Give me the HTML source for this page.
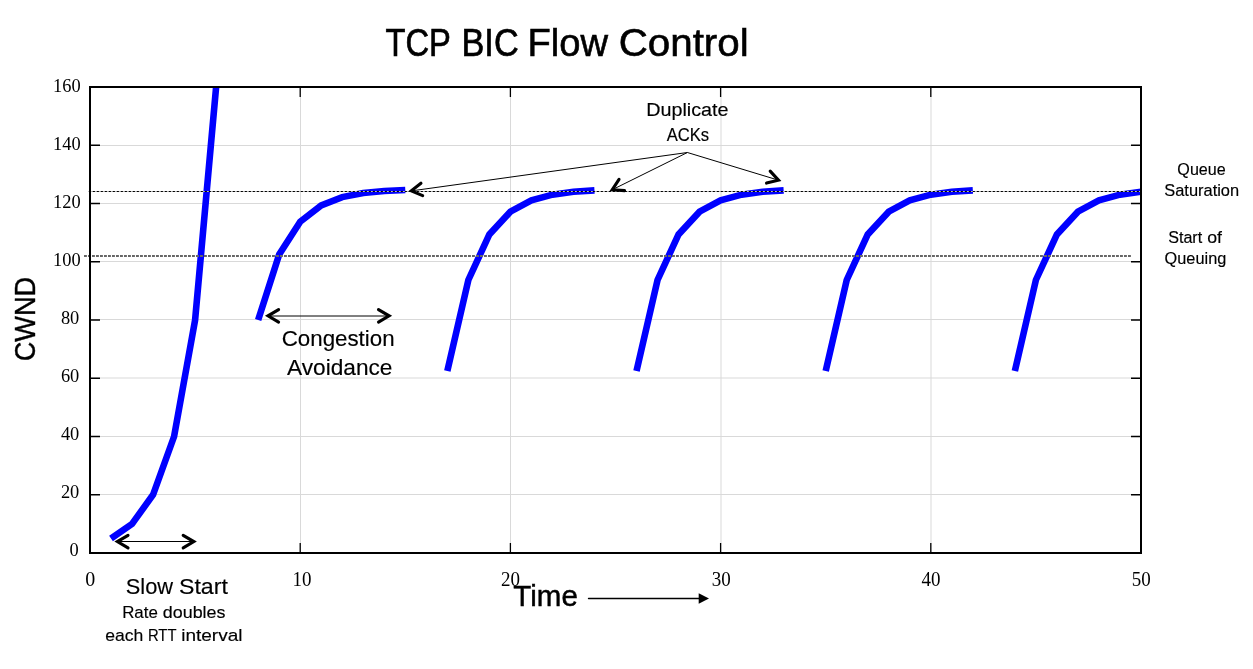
<!DOCTYPE html><html><head><meta charset="utf-8"><style>html,body{margin:0;padding:0;background:#fff;overflow:hidden}svg{display:block;will-change:transform}text{white-space:pre}</style></head><body>
<svg width="1253" height="669" viewBox="0 0 1253 669">
<rect width="1253" height="669" fill="#fff"/>
<path d="M300.5 87V553M510.5 87V553M721.0 87V553M931.0 87V553M90 494.5H1141M90 436.5H1141M90 378.0H1141M90 319.5H1141M90 261.5H1141M90 203.5H1141M90 145.5H1141" stroke="#d9d9d9" stroke-width="1" fill="none"/>
<path d="M300.20 87v10M300.20 553v-10M510.40 87v10M510.40 553v-10M720.60 87v10M720.60 553v-10M930.80 87v10M930.80 553v-10M90 494.75h10M1141 494.75h-10M90 436.50h10M1141 436.50h-10M90 378.25h10M1141 378.25h-10M90 320.00h10M1141 320.00h-10M90 261.75h10M1141 261.75h-10M90 203.50h10M1141 203.50h-10M90 145.25h10M1141 145.25h-10" stroke="#000" stroke-width="1.3" fill="none"/>
<path d="M111.02 538.44 L132.04 523.88 L153.06 494.75 L174.08 436.50 L195.10 320.00 L216.12 87.00" stroke="#0000ff" stroke-width="6.6" fill="none" stroke-linejoin="miter" stroke-linecap="butt" clip-path="url(#pc)"/>
<path d="M258.16 320.00 L279.18 254.47 L300.20 221.70 L321.22 205.32 L342.24 197.13 L363.26 193.03 L384.28 190.99 L405.30 189.96" stroke="#0000ff" stroke-width="6.6" fill="none" stroke-linejoin="miter" stroke-linecap="butt" clip-path="url(#pc)"/>
<path d="M447.34 370.97 L468.36 279.95 L489.38 234.45 L510.40 211.69 L531.42 200.31 L552.44 194.63 L573.46 191.78 L594.48 190.36" stroke="#0000ff" stroke-width="6.6" fill="none" stroke-linejoin="miter" stroke-linecap="butt" clip-path="url(#pc)"/>
<path d="M636.52 370.97 L657.54 279.95 L678.56 234.45 L699.58 211.69 L720.60 200.31 L741.62 194.63 L762.64 191.78 L783.66 190.36" stroke="#0000ff" stroke-width="6.6" fill="none" stroke-linejoin="miter" stroke-linecap="butt" clip-path="url(#pc)"/>
<path d="M825.70 370.97 L846.72 279.95 L867.74 234.45 L888.76 211.69 L909.78 200.31 L930.80 194.63 L951.82 191.78 L972.84 190.36" stroke="#0000ff" stroke-width="6.6" fill="none" stroke-linejoin="miter" stroke-linecap="butt" clip-path="url(#pc)"/>
<path d="M1014.88 370.97 L1035.90 279.95 L1056.92 234.45 L1077.94 211.69 L1098.96 200.31 L1119.98 194.63 L1141.00 191.78" stroke="#0000ff" stroke-width="6.6" fill="none" stroke-linejoin="miter" stroke-linecap="butt" clip-path="url(#pc)"/>
<defs><clipPath id="pc"><rect x="90" y="87" width="1051" height="466"/></clipPath></defs>
<path d="M88.8 191.5H1140" stroke="#bbb" stroke-width="1" fill="none"/>
<path d="M88.8 191.5H1140" stroke="#000" stroke-width="1.1" stroke-dasharray="2.1 1.9" fill="none"/>
<path d="M84 256H1131" stroke="#666" stroke-width="1.9" stroke-dasharray="2.9 1.1" fill="none"/>
<rect x="90" y="87" width="1051" height="466" fill="none" stroke="#000" stroke-width="2"/>
<g font-family="Liberation Serif" font-size="20" fill="#000"><text x="78.6" y="556.40" text-anchor="end" font-size="18.4">0</text><text x="79.3" y="498.30" text-anchor="end" font-size="18.4">20</text><text x="79.3" y="440.20" text-anchor="end" font-size="18.4">40</text><text x="79.3" y="382.10" text-anchor="end" font-size="18.4">60</text><text x="79.3" y="324.00" text-anchor="end" font-size="18.4">80</text><text x="80.6" y="265.90" text-anchor="end" font-size="18.4">100</text><text x="80.6" y="207.80" text-anchor="end" font-size="18.4">120</text><text x="80.6" y="149.70" text-anchor="end" font-size="18.4">140</text><text x="80.6" y="91.60" text-anchor="end" font-size="18.4">160</text><text x="90.30" y="585.5" text-anchor="middle">0</text><text x="301.90" y="585.5" text-anchor="middle" textLength="19.0" lengthAdjust="spacingAndGlyphs">10</text><text x="510.60" y="585.5" text-anchor="middle" textLength="19.0" lengthAdjust="spacingAndGlyphs">20</text><text x="721.15" y="585.5" text-anchor="middle" textLength="19.0" lengthAdjust="spacingAndGlyphs">30</text><text x="931.05" y="585.5" text-anchor="middle" textLength="19.0" lengthAdjust="spacingAndGlyphs">40</text><text x="1141.30" y="585.5" text-anchor="middle" textLength="19.0" lengthAdjust="spacingAndGlyphs">50</text></g>
<g stroke="#000" stroke-width="0.15" fill="#000">
<text x="385.45" y="55.9" font-family="Liberation Sans" font-size="39.13" textLength="65.39" lengthAdjust="spacingAndGlyphs" stroke-width="0.7">TCP</text>
<text x="461.56" y="55.9" font-family="Liberation Sans" font-size="39.13" textLength="57.05" lengthAdjust="spacingAndGlyphs" stroke-width="0.7">BIC</text>
<text x="527.55" y="55.9" font-family="Liberation Sans" font-size="39.13" textLength="80.5" lengthAdjust="spacingAndGlyphs" stroke-width="0.6">Flow</text>
<text x="618.68" y="55.9" font-family="Liberation Sans" font-size="39.13" textLength="129.99" lengthAdjust="spacingAndGlyphs" stroke-width="0.6">Control</text>
<text x="646.22" y="115.6" font-family="Liberation Sans" font-size="17.83" textLength="82.25" lengthAdjust="spacingAndGlyphs">Duplicate</text>
<text x="666.7" y="140.7" font-family="Liberation Sans" font-size="17.68" textLength="42.4" lengthAdjust="spacingAndGlyphs">ACKs</text>
<text x="1177.39" y="174.6" font-family="Liberation Sans" font-size="15.65" textLength="48.39" lengthAdjust="spacingAndGlyphs">Queue</text>
<text x="1164.28" y="195.65" font-family="Liberation Sans" font-size="15.72" textLength="74.85" lengthAdjust="spacingAndGlyphs">Saturation</text>
<text x="1168.19" y="242.8" font-family="Liberation Sans" font-size="16.09" textLength="34.04" lengthAdjust="spacingAndGlyphs">Start</text>
<text x="1207.19" y="242.8" font-family="Liberation Sans" font-size="16.09" textLength="14.78" lengthAdjust="spacingAndGlyphs">of</text>
<text x="1164.58" y="263.7" font-family="Liberation Sans" font-size="15.65" textLength="61.71" lengthAdjust="spacingAndGlyphs">Queuing</text>
<text x="281.68" y="345.5" font-family="Liberation Sans" font-size="21.74" textLength="112.96" lengthAdjust="spacingAndGlyphs">Congestion</text>
<text x="287.0" y="374.7" font-family="Liberation Sans" font-size="21.74" textLength="105.45" lengthAdjust="spacingAndGlyphs">Avoidance</text>
<text x="125.81" y="593.6" font-family="Liberation Sans" font-size="21.59" textLength="47.34" lengthAdjust="spacingAndGlyphs">Slow</text>
<text x="178.94" y="593.6" font-family="Liberation Sans" font-size="21.59" textLength="48.9" lengthAdjust="spacingAndGlyphs">Start</text>
<text x="122.15" y="617.8" font-family="Liberation Sans" font-size="16.81" textLength="35.67" lengthAdjust="spacingAndGlyphs">Rate</text>
<text x="162.78" y="617.8" font-family="Liberation Sans" font-size="16.81" textLength="62.71" lengthAdjust="spacingAndGlyphs">doubles</text>
<text x="105.3" y="640.7" font-family="Liberation Sans" font-size="16.81" textLength="38.11" lengthAdjust="spacingAndGlyphs">each</text>
<text x="147.91" y="640.7" font-family="Liberation Sans" font-size="16.81" textLength="28.57" lengthAdjust="spacingAndGlyphs">RTT</text>
<text x="181.17" y="640.7" font-family="Liberation Sans" font-size="16.81" textLength="61.35" lengthAdjust="spacingAndGlyphs">interval</text>
<text transform="rotate(-90)" x="-361.36" y="34.9" font-family="Liberation Sans" font-size="28.99" textLength="84.63" lengthAdjust="spacingAndGlyphs" stroke-width="0.4">CWND</text>
<text x="513.31" y="605.9" font-family="Liberation Sans" font-size="29.13" textLength="64.52" lengthAdjust="spacingAndGlyphs" stroke-width="0.45">Time</text>
</g>
<path d="M687.4 152.5L411.3 190.9" stroke="#000" stroke-width="1" fill="none"/>
<path d="M422.66 195.62L411.30 190.90L420.94 183.26" stroke="#000" stroke-width="3.1" fill="none" stroke-linecap="round" stroke-linejoin="miter"/>
<path d="M687.4 152.5L612.3 189.7" stroke="#000" stroke-width="1" fill="none"/>
<path d="M624.57 190.59L612.30 189.70L619.03 179.40" stroke="#000" stroke-width="3.1" fill="none" stroke-linecap="round" stroke-linejoin="miter"/>
<path d="M687.4 152.5L778.5 180.2" stroke="#000" stroke-width="1" fill="none"/>
<path d="M770.18 171.14L778.50 180.20L766.54 183.09" stroke="#000" stroke-width="3.1" fill="none" stroke-linecap="round" stroke-linejoin="miter"/>
<path d="M268.0 316.0H389.1" stroke="#000" stroke-width="1" fill="none"/>
<path d="M278.60 322.04L268.00 315.80L278.60 309.56" stroke="#000" stroke-width="3.1" fill="none" stroke-linecap="round" stroke-linejoin="miter"/>
<path d="M378.50 309.56L389.10 315.80L378.50 322.04" stroke="#000" stroke-width="3.1" fill="none" stroke-linecap="round" stroke-linejoin="miter"/>
<path d="M117.4 541.5H193.8" stroke="#000" stroke-width="1" fill="none"/>
<path d="M128.00 547.84L117.40 541.60L128.00 535.36" stroke="#000" stroke-width="3.1" fill="none" stroke-linecap="round" stroke-linejoin="miter"/>
<path d="M183.20 535.36L193.80 541.60L183.20 547.84" stroke="#000" stroke-width="3.1" fill="none" stroke-linecap="round" stroke-linejoin="miter"/>
<path d="M588.5 598.5H700" stroke="#000" stroke-width="1.4" fill="none" stroke-linecap="round"/>
<path d="M698.7 593.3L709 598.5L698.7 603.7Z" fill="#000"/>
</svg></body></html>
